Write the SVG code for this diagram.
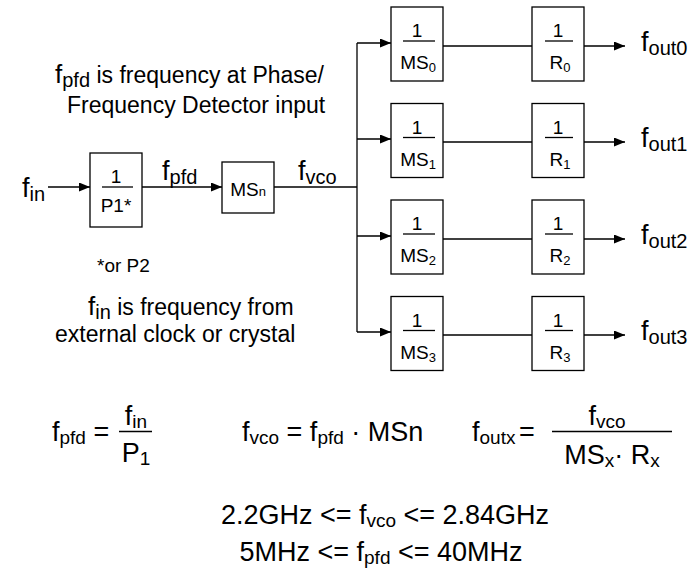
<svg xmlns="http://www.w3.org/2000/svg" width="690" height="576" viewBox="0 0 690 576">
<style>
text{font-family:"Liberation Sans",Arial,sans-serif;fill:#000}
.box{fill:#fff;stroke:#000;stroke-width:1.3}
.ln{stroke:#000;stroke-width:1.3;fill:none}
.ar{stroke:#000;stroke-width:1.3;fill:none;marker-end:url(#ah)}
.lbl{font-size:27px}
.bx{font-size:19px;text-anchor:middle}
.note{font-size:23px}
.eq{font-size:27px}
</style>
<defs>
<marker id="ah" markerWidth="11" markerHeight="9" refX="11" refY="4.5" orient="auto" markerUnits="userSpaceOnUse"><path d="M0,0 L11,4.5 L0,9 z" fill="#000"/></marker>
</defs>

<g id="connectors">
<line class="ar" x1="48" y1="187" x2="90" y2="187"/>
<line class="ar" x1="142" y1="187" x2="222" y2="187"/>
<line class="ln" x1="274" y1="187" x2="357" y2="187"/>
<line class="ln" x1="357" y1="43" x2="357" y2="332"/>
<line class="ar" x1="357" y1="43" x2="391" y2="43"/>
<line class="ar" x1="357" y1="139" x2="391" y2="139"/>
<line class="ar" x1="357" y1="236" x2="391" y2="236"/>
<line class="ar" x1="357" y1="332" x2="391" y2="332"/>
<line class="ln" x1="443" y1="46" x2="532" y2="46"/>
<line class="ln" x1="443" y1="142" x2="532" y2="142"/>
<line class="ln" x1="443" y1="239" x2="532" y2="239"/>
<line class="ln" x1="443" y1="335" x2="532" y2="335"/>
<line class="ar" x1="584" y1="46" x2="625" y2="46"/>
<line class="ar" x1="584" y1="142" x2="625" y2="142"/>
<line class="ar" x1="584" y1="239" x2="625" y2="239"/>
<line class="ar" x1="584" y1="335" x2="625" y2="335"/>
</g>

<g id="p1">
<rect class="box" x="90" y="153" width="52" height="74"/>
<text class="bx" x="116" y="183">1</text>
<line class="ln" x1="102" y1="187" x2="133" y2="187"/>
<text class="bx" x="116" y="212">P1*</text>
</g>

<g id="msn">
<rect class="box" x="222" y="162" width="52" height="51"/>
<text class="bx" x="248" y="196">MS<tspan font-size="13">n</tspan></text>
</g>

<g id="ms0">
<rect class="box" x="391" y="7" width="52" height="74"/>
<text class="bx" x="417" y="37">1</text>
<line class="ln" x1="403" y1="41" x2="435" y2="41"/>
<text class="bx" x="418" y="69">MS<tspan font-size="13" dy="3">0</tspan></text>
</g>
<g id="ms1">
<rect class="box" x="391" y="103.5" width="52" height="74"/>
<text class="bx" x="417" y="133.5">1</text>
<line class="ln" x1="403" y1="137.5" x2="435" y2="137.5"/>
<text class="bx" x="418" y="165.5">MS<tspan font-size="13" dy="3">1</tspan></text>
</g>
<g id="ms2">
<rect class="box" x="391" y="200" width="52" height="74"/>
<text class="bx" x="417" y="230">1</text>
<line class="ln" x1="403" y1="234" x2="435" y2="234"/>
<text class="bx" x="418" y="262">MS<tspan font-size="13" dy="3">2</tspan></text>
</g>
<g id="ms3">
<rect class="box" x="391" y="296.5" width="52" height="74"/>
<text class="bx" x="417" y="326.5">1</text>
<line class="ln" x1="403" y1="330.5" x2="435" y2="330.5"/>
<text class="bx" x="418" y="358.5">MS<tspan font-size="13" dy="3">3</tspan></text>
</g>

<g id="r0">
<rect class="box" x="532" y="7" width="52" height="74"/>
<text class="bx" x="558" y="37">1</text>
<line class="ln" x1="545" y1="41" x2="573" y2="41"/>
<text class="bx" x="560" y="69">R<tspan font-size="13" dy="3">0</tspan></text>
</g>
<g id="r1">
<rect class="box" x="532" y="103.5" width="52" height="74"/>
<text class="bx" x="558" y="133.5">1</text>
<line class="ln" x1="545" y1="137.5" x2="573" y2="137.5"/>
<text class="bx" x="560" y="165.5">R<tspan font-size="13" dy="3">1</tspan></text>
</g>
<g id="r2">
<rect class="box" x="532" y="200" width="52" height="74"/>
<text class="bx" x="558" y="230">1</text>
<line class="ln" x1="545" y1="234" x2="573" y2="234"/>
<text class="bx" x="560" y="262">R<tspan font-size="13" dy="3">2</tspan></text>
</g>
<g id="r3">
<rect class="box" x="532" y="296.5" width="52" height="74"/>
<text class="bx" x="558" y="326.5">1</text>
<line class="ln" x1="545" y1="330.5" x2="573" y2="330.5"/>
<text class="bx" x="560" y="358.5">R<tspan font-size="13" dy="3">3</tspan></text>
</g>

<g id="labels">
<text class="lbl" x="22" y="197">f<tspan font-size="20" dy="4">in</tspan></text>
<text class="lbl" x="162" y="180">f<tspan font-size="20" dy="4">pfd</tspan></text>
<text class="lbl" x="298" y="180">f<tspan font-size="20" dy="4">vco</tspan></text>
<text class="lbl" x="641" y="51">f<tspan font-size="20" dy="4">out0</tspan></text>
<text class="lbl" x="641" y="147">f<tspan font-size="20" dy="4">out1</tspan></text>
<text class="lbl" x="641" y="244">f<tspan font-size="20" dy="4">out2</tspan></text>
<text class="lbl" x="641" y="340">f<tspan font-size="20" dy="4">out3</tspan></text>
</g>

<g id="notes">
<text class="note" x="55" y="83"><tspan font-size="26">f</tspan><tspan font-size="20" dy="4">pfd</tspan><tspan dy="-4"> is frequency at Phase/</tspan></text>
<text class="note" x="67" y="113">Frequency Detector input</text>
<text x="97" y="272" font-size="19">*or P2</text>
<text class="note" x="88" y="315"><tspan font-size="26">f</tspan><tspan font-size="20" dy="4">in</tspan><tspan dy="-4"> is frequency from</tspan></text>
<text class="note" x="55" y="342">external clock or crystal</text>
</g>

<g id="equations">
<text class="eq" x="52" y="441">f<tspan font-size="19" dy="3">pfd</tspan><tspan dy="-3"> =</tspan></text>
<text class="eq" x="136" y="425" text-anchor="middle">f<tspan font-size="19" dy="3">in</tspan></text>
<line class="ln" x1="119" y1="431.5" x2="152" y2="431.5"/>
<text class="eq" x="136" y="462" text-anchor="middle">P<tspan font-size="19" dy="3">1</tspan></text>

<text class="eq" x="242" y="441">f<tspan font-size="19" dy="3">vco</tspan><tspan dy="-3"> = f</tspan><tspan font-size="19" dy="3">pfd</tspan><tspan dy="-3"> · MSn</tspan></text>

<text class="eq" x="472" y="441">f<tspan font-size="19" dy="3">outx</tspan></text>
<text class="eq" x="519" y="441">=</text>
<line class="ln" x1="552" y1="431.5" x2="672" y2="431.5"/>
<text class="eq" x="607" y="425" text-anchor="middle">f<tspan font-size="19" dy="3">vco</tspan></text>
<text class="eq" x="612" y="464" text-anchor="middle">MS<tspan font-size="19" dy="3">x</tspan><tspan dy="-3">· R</tspan><tspan font-size="19" dy="3">x</tspan></text>

<text class="eq" x="385" y="524" text-anchor="middle">2.2GHz &lt;= f<tspan font-size="19" dy="3">vco</tspan><tspan dy="-3"> &lt;= 2.84GHz</tspan></text>
<text class="eq" x="381" y="561" text-anchor="middle">5MHz &lt;= f<tspan font-size="19" dy="3">pfd</tspan><tspan dy="-3"> &lt;= 40MHz</tspan></text>
</g>
</svg>
